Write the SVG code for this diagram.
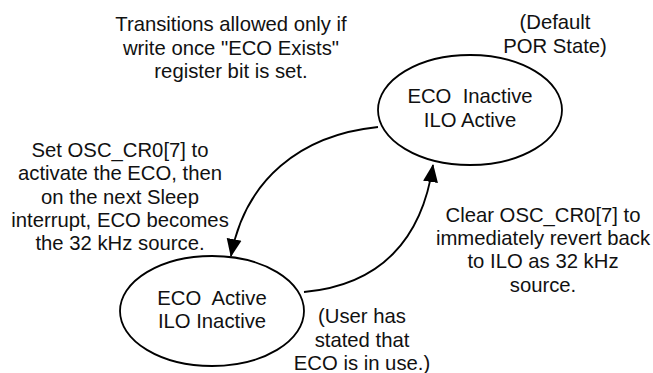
<svg xmlns="http://www.w3.org/2000/svg" width="653" height="373" viewBox="0 0 653 373">
<style>
text{font-family:"Liberation Sans",Arial,sans-serif;font-size:20.3px;fill:#111;text-anchor:middle;white-space:pre}
.st{fill:#fff;stroke:#000;stroke-width:1.8}
.ar{fill:none;stroke:#000;stroke-width:1.8}
</style>
<defs>
<marker id="ah" markerWidth="18" markerHeight="18" viewBox="0 0 18 18" refX="17" refY="9" orient="auto" markerUnits="userSpaceOnUse">
<path d="M0,1.5 L18,9 L0,16.5 Z" fill="#000"/>
</marker>
</defs>
<rect width="653" height="373" fill="#fff"/>
<g id="note-top">
<text x="231" y="31">Transitions allowed only if</text>
<text x="231" y="54.5">write once "ECO Exists"</text>
<text x="231" y="78">register bit is set.</text>
</g>
<g id="note-default">
<text x="555" y="29">(Default</text>
<text x="555" y="53">POR State)</text>
</g>
<g id="state-ilo">
<ellipse class="st" cx="470" cy="110" rx="92" ry="55"/>
<text x="470" y="103" xml:space="preserve">ECO  Inactive</text>
<text x="470" y="127">ILO Active</text>
</g>
<g id="state-eco">
<ellipse class="st" cx="212" cy="311" rx="92" ry="55"/>
<text x="212" y="305" xml:space="preserve">ECO  Active</text>
<text x="212" y="328">ILO Inactive</text>
</g>
<g id="connectors">
<path class="ar" d="M378,127 C300,135 245,180 231,256" marker-end="url(#ah)"/>
<path class="ar" d="M304,292 C380,285 422,240 433,165" marker-end="url(#ah)"/>
</g>
<g id="label-set">
<text x="120" y="157">Set OSC_CR0[7] to</text>
<text x="120" y="180">activate the ECO, then</text>
<text x="120" y="203.5">on the next Sleep</text>
<text x="120" y="227">interrupt, ECO becomes</text>
<text x="120" y="250">the 32 kHz source.</text>
</g>
<g id="note-user">
<text x="362" y="323">(User has</text>
<text x="362" y="347">stated that</text>
<text x="362" y="370">ECO is in use.)</text>
</g>
<g id="label-clear">
<text x="543" y="222">Clear OSC_CR0[7] to</text>
<text x="543" y="245">immediately revert back</text>
<text x="543" y="268">to ILO as 32 kHz</text>
<text x="543" y="292">source.</text>
</g>
</svg>
